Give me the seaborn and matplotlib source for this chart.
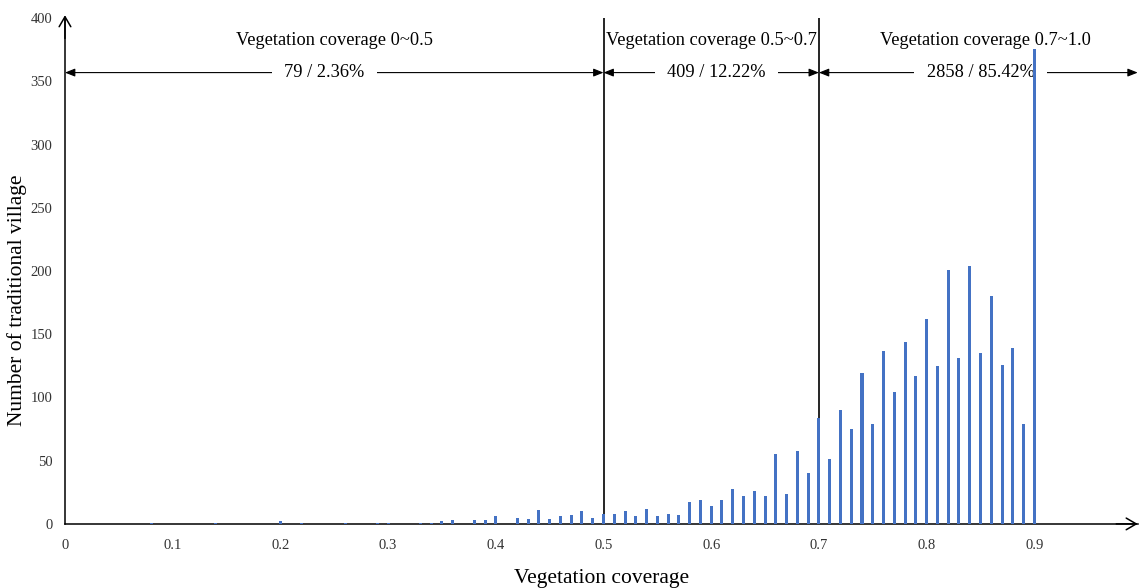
import numpy as np
import pandas as pd
import matplotlib.pyplot as plt
import seaborn as sns

# vegetation coverage bins (0.01 wide) that hold at least one village
coverage = [0.08, 0.14, 0.20, 0.22, 0.26, 0.29, 0.30, 0.33, 0.34, 0.35,
            0.36, 0.38, 0.39, 0.40, 0.42, 0.43, 0.44, 0.45, 0.46, 0.47,
            0.48, 0.49,
            0.50, 0.51, 0.52, 0.53, 0.54, 0.55, 0.56, 0.57, 0.58, 0.59,
            0.60, 0.61, 0.62, 0.63, 0.64, 0.65, 0.66, 0.67, 0.68, 0.69,
            0.70, 0.71, 0.72, 0.73, 0.74, 0.75, 0.76, 0.77, 0.78, 0.79,
            0.80, 0.81, 0.82, 0.83, 0.84, 0.85, 0.86, 0.87, 0.88, 0.89,
            0.90]
villages = [1, 1, 2, 1, 1, 1, 1, 1, 1, 2,
            3, 3, 3, 6, 5, 4, 11, 4, 6, 7,
            10, 5,
            8, 8, 10, 6, 12, 6, 8, 7, 17, 19,
            14, 19, 28, 22, 26, 22, 55, 24, 58, 40,
            84, 51, 90, 75, 119, 79, 137, 104, 144, 117,
            162, 125, 201, 131, 204, 135, 180, 126, 139, 79,
            376]

range_edges = [0, 0.5, 0.7, 0.996]
range_titles = ["Vegetation coverage 0~0.5",
                "Vegetation coverage 0.5~0.7",
                "Vegetation coverage 0.7~1.0"]
range_stats = ["79 / 2.36%", "409 / 12.22%", "2858 / 85.42%"]

x_ticks = [0, 0.1, 0.2, 0.3, 0.4, 0.5, 0.6, 0.7, 0.8, 0.9]
x_tick_labels = ["0", "0.1", "0.2", "0.3", "0.4", "0.5", "0.6", "0.7", "0.8", "0.9"]
y_ticks = [0, 50, 100, 150, 200, 250, 300, 350, 400]

df = pd.DataFrame({"coverage": coverage, "villages": villages})

sns.set_theme(style="white")
plt.rcParams["font.family"] = ["Liberation Serif", "DejaVu Serif"]

fig = plt.figure(figsize=(11.4, 5.88), dpi=100)
ax = fig.add_axes([0.057, 0.109, 0.941, 0.860])

sns.barplot(data=df, x="coverage", y="villages", native_scale=True,
            width=0.28, color="#4472C4", saturation=1, linewidth=0,
            edgecolor="none", ax=ax, zorder=3)

ax.set_xlim(0, 0.996)
ax.set_ylim(0, 400)
ax.set_xticks(x_ticks)
ax.set_xticklabels(x_tick_labels)
ax.set_yticks(y_ticks)
ax.tick_params(axis="both", direction="out", length=5, width=1,
               color="black", labelsize=10.5, labelcolor="#333333", pad=4)
ax.tick_params(axis="x", pad=6)

for side in ["top", "right"]:
    ax.spines[side].set_visible(False)
for side in ["left", "bottom"]:
    ax.spines[side].set_color("black")
    ax.spines[side].set_linewidth(1.1)

# open arrow heads on the two axes
ax.annotate("", xy=(1.0, 0), xytext=(0.98, 0), xycoords="axes fraction",
            arrowprops=dict(arrowstyle="->,head_length=0.6,head_width=0.35",
                            lw=1.1, color="black", shrinkA=0, shrinkB=0),
            annotation_clip=False)
ax.annotate("", xy=(0, 1.006), xytext=(0, 0.96), xycoords="axes fraction",
            arrowprops=dict(arrowstyle="->,head_length=0.6,head_width=0.35",
                            lw=1.1, color="black", shrinkA=0, shrinkB=0),
            annotation_clip=False)

# range boundaries (under the bars so 0.5 / 0.7 stay visible)
ax.vlines([0.5, 0.7], 0, 400, color="black", lw=1.2, zorder=2.5)

title_x = [0.25, 0.60, 0.855]
stat_x = [0.241, 0.605, 0.85]
for i in range(3):
    ax.annotate("", xy=(range_edges[i], 357), xytext=(range_edges[i + 1], 357),
                arrowprops=dict(arrowstyle="<|-|>,head_length=0.5,head_width=0.2",
                                lw=0.8, color="black", shrinkA=0, shrinkB=0),
                zorder=1, annotation_clip=False)
    ax.text(title_x[i], 382, range_titles[i], ha="center", va="center",
            fontsize=13.2, color="black", zorder=2)
    ax.text(stat_x[i], 357, range_stats[i], ha="center", va="center",
            fontsize=13.2, color="black", zorder=2,
            bbox=dict(fc="white", ec="none", pad=9))

ax.set_xlabel("Vegetation coverage", fontsize=15.5, labelpad=12, color="black")
ax.set_ylabel("Number of traditional village", fontsize=15.5, color="black")
ax.yaxis.set_label_coords(-0.035, 0.443)

fig.savefig("out.png", dpi=100)
